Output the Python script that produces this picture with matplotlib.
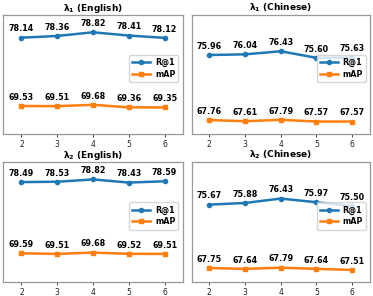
import numpy as np
import matplotlib
matplotlib.use("Agg")
import matplotlib.pyplot as plt

steps = [2, 3, 4, 5, 6]

titles = [r"$\mathbf{\lambda_1}$ (English)", r"$\mathbf{\lambda_1}$ (Chinese)",
          r"$\mathbf{\lambda_2}$ (English)", r"$\mathbf{\lambda_2}$ (Chinese)"]

r1_l1_en = [78.14, 78.36, 78.82, 78.41, 78.12]
map_l1_en = [69.53, 69.51, 69.68, 69.36, 69.35]
r1_l1_zh = [75.96, 76.04, 76.43, 75.60, 75.63]
map_l1_zh = [67.76, 67.61, 67.79, 67.57, 67.57]
r1_l2_en = [78.49, 78.53, 78.82, 78.43, 78.59]
map_l2_en = [69.59, 69.51, 69.68, 69.52, 69.51]
r1_l2_zh = [75.67, 75.88, 76.43, 75.97, 75.50]
map_l2_zh = [67.75, 67.64, 67.79, 67.64, 67.51]

r1_all = [r1_l1_en, r1_l1_zh, r1_l2_en, r1_l2_zh]
map_all = [map_l1_en, map_l1_zh, map_l2_en, map_l2_zh]

W, H = 373, 296
fig = plt.figure(figsize=(W / 100, H / 100), dpi=100)

# pixel boxes (left, top, right, bottom)
boxes = [(3.5, 15, 182.5, 134), (191.5, 15, 370, 134),
         (3.5, 162, 182.5, 282), (191.5, 162, 370, 282)]

for i, (x0, y0, x1, y1) in enumerate(boxes):
    ax = fig.add_axes([x0 / W, 1 - y1 / H, (x1 - x0) / W, (y1 - y0) / H])
    ax.plot(steps, r1_all[i], marker='o', markersize=3, lw=1.8, color='tab:blue', label='R@1')
    ax.plot(steps, map_all[i], marker='s', markersize=3, lw=1.8, color='tab:orange', label='mAP')
    for x, v in zip(steps, r1_all[i]):
        ax.annotate(f"{v:.2f}", (x, v), xytext=(0, 4.5), textcoords='offset points',
                    ha='center', fontsize=5.8, fontweight='bold')
    for x, v in zip(steps, map_all[i]):
        ax.annotate(f"{v:.2f}", (x, v), xytext=(0, 4.5), textcoords='offset points',
                    ha='center', fontsize=5.8, fontweight='bold')
    ax.set_ylim(66, 81)
    ax.set_xlim(1.5, 6.5)
    ax.set_xticks(steps)
    ax.set_yticks([])
    ax.tick_params(axis='x', labelsize=5.5, length=2.5, width=0.6, pad=1.5, colors='#222222')
    for s in ax.spines.values():
        s.set_color('#999999')
        s.set_linewidth(0.9)
    ax.set_title(titles[i], fontsize=6.5, fontweight='bold', pad=3)
    ax.legend(loc='center right', bbox_to_anchor=(1.0, 0.55),
              prop={'weight': 'bold', 'size': 5.8}, handlelength=2.2,
              borderpad=0.4, labelspacing=0.3, handletextpad=0.6)

fig.savefig('out.png', dpi=100)
